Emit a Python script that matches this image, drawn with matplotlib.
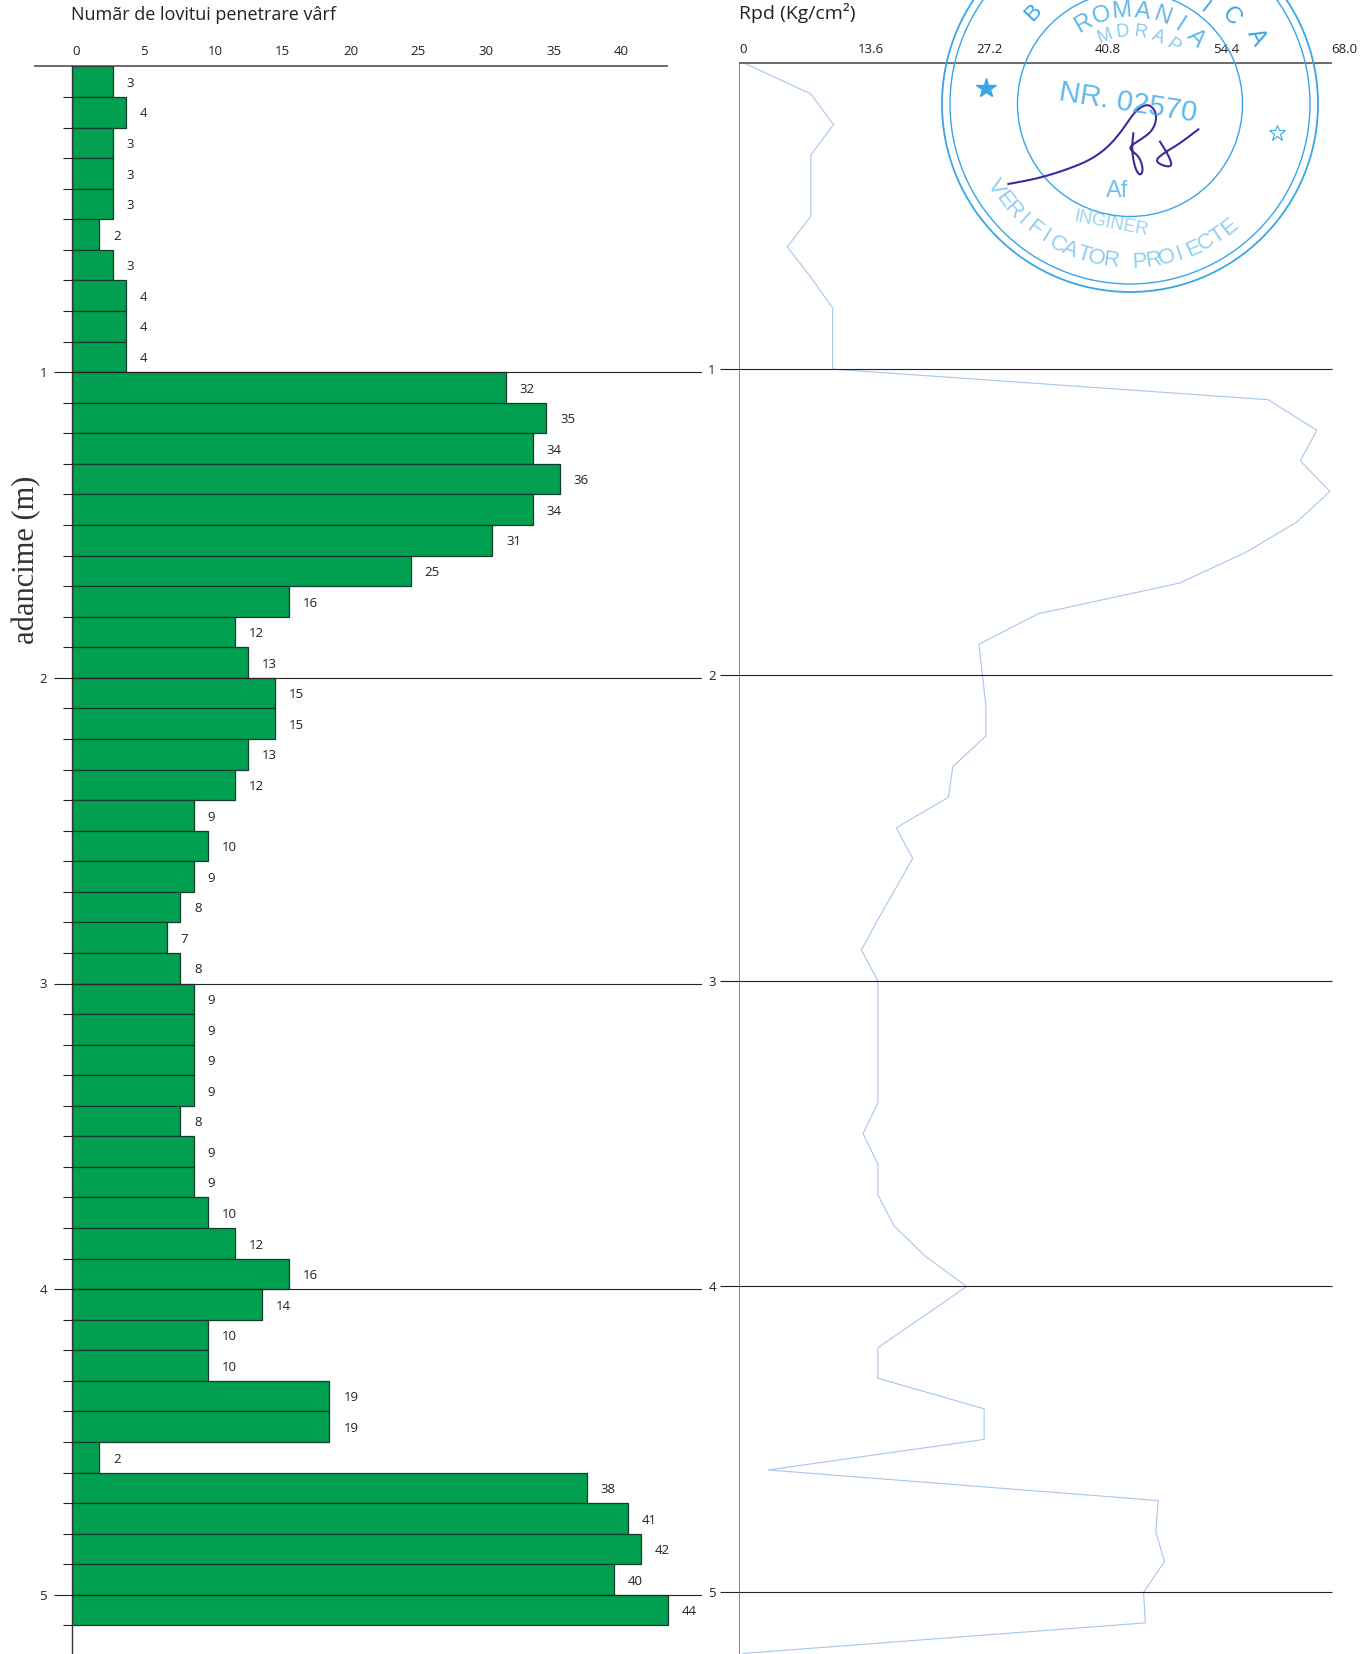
import numpy as np
import matplotlib
matplotlib.use("Agg")
import matplotlib.pyplot as plt
from matplotlib.patches import Circle

W = 1371
H = 1654
plt.rcParams['font.family'] = ['Open Sans', 'DejaVu Sans']

# numar de lovituri pe fiecare 10 cm
lovituri = [3, 4, 3, 3, 3, 2, 3, 4, 4, 4,
            32, 35, 34, 36, 34, 31, 25, 16, 12, 13,
            15, 15, 13, 12, 9, 10, 9, 8, 7, 8,
            9, 9, 9, 9, 8, 9, 9, 10, 12, 16,
            14, 10, 10, 19, 19, 2, 38, 41, 42, 40, 44]

# Rpd, din 0.0 in 5.2 m
rpd = [0.6, 8.2, 10.8, 8.2, 8.2, 8.2, 5.5, 8.2, 10.7, 10.7, 10.7,
       60.7, 66.3, 64.4, 67.8, 64.0, 58.1, 50.5, 34.3, 27.5, 27.9,
       28.3, 28.3, 24.5, 24.0, 18.0, 19.9, 17.9, 15.9, 14.0, 15.9,
       15.9, 15.9, 15.9, 15.9, 14.2, 15.9, 15.9, 17.7, 21.3, 26.1,
       21.0, 15.9, 15.9, 28.1, 28.1, 3.3, 48.1, 47.8, 48.8, 46.4,
       46.6, 0.4]

ticks_lov = [0, 5, 10, 15, 20, 25, 30, 35, 40]
ticks_rpd = [0, 13.6, 27.2, 40.8, 54.4, 68.0]
labels_rpd = ['0', '13.6', '27.2', '40.8', '54.4', '68.0']
adancimi = [1, 2, 3, 4, 5]

VERDE = '#00a050'
NEGRU = '#222222'
ALBASTRU = '#38a6e6'


def axe_px(fig, x0, x1, y0, y1):
    return fig.add_axes([x0 / W, 1 - y1 / H, (x1 - x0) / W, (y1 - y0) / H])


fig = plt.figure(figsize=(W / 100, H / 100), dpi=100, facecolor='white')

# ---- stanga: lovituri
px_unit = 13.55
ax = axe_px(fig, 72, 702, 66.4, H)
ax.set_xlim(0, (702 - 72) / px_unit)
ax.set_ylim((H - 66.4) / 305.7, 0)
ad = np.arange(len(lovituri)) * 0.1
ax.barh(ad + 0.05, lovituri, height=0.1, color=VERDE, edgecolor='#14392a', linewidth=0.9, zorder=2)
for d, n in zip(ad, lovituri):
    ax.annotate(str(n), xy=(n, d + 0.05), xytext=(10, -1.2), textcoords='offset points',
                ha='left', va='center', fontsize=9.5, color=NEGRU)
for s in ['top', 'right', 'bottom']:
    ax.spines[s].set_visible(False)
ax.spines['left'].set_color('#333333')
ax.spines['left'].set_linewidth(1.0)
ax.xaxis.tick_top()
ax.set_xticks(ticks_lov)
ax.tick_params(axis='x', length=0, pad=6, labelsize=9.5, labelcolor=NEGRU)
for lab in ax.get_xticklabels():
    lab.set_ha('left')
ax.set_yticks(adancimi)
ax.set_yticks(np.arange(0.1, 5.15, 0.1), minor=True)
ax.tick_params(axis='y', which='major', length=13, width=0.8, color=NEGRU, pad=5, labelsize=9.5, labelcolor=NEGRU)
ax.tick_params(axis='y', which='minor', length=6.5, width=0.8, color=NEGRU)
ax.grid(axis='y', which='major', color=NEGRU, linewidth=0.8, zorder=3)
ax.set_axisbelow(False)
ax.hlines(0, -38 / px_unit, 44, color='#444444', linewidth=1.1, clip_on=False, zorder=4)

# ---- dreapta: Rpd
px_rpd = 8.71
ax2 = axe_px(fig, 739.4, 1350, 63.3, H)
ax2.set_xlim(0, (1350 - 739.4) / px_rpd)
ax2.set_ylim((H - 63.3) / 305.8, 0)
ax2.patch.set_alpha(0)
ax2.plot(rpd, np.arange(len(rpd)) * 0.1, color='#a8c6ee', linewidth=0.8, zorder=2)
for s in ['top', 'right', 'bottom']:
    ax2.spines[s].set_visible(False)
ax2.spines['left'].set_color('#888888')
ax2.spines['left'].set_linewidth(0.7)
ax2.xaxis.tick_top()
ax2.set_xticks(ticks_rpd)
ax2.set_xticklabels(labels_rpd, ha='left')
ax2.tick_params(axis='x', length=0, pad=5, labelsize=9.5, labelcolor=NEGRU)
ax2.set_yticks(adancimi)
ax2.tick_params(axis='y', length=14, width=0.8, color=NEGRU, pad=3, labelsize=9.5, labelcolor=NEGRU)
ax2.hlines(adancimi, 0, 68, color=NEGRU, linewidth=0.8, zorder=3)
ax2.hlines(0, 0, 68, color='#444444', linewidth=1.1, clip_on=False, zorder=3)

# ---- texte
fig.text(71 / W, 1 - 15 / H, 'Numãr de lovitui penetrare vârf', fontsize=13, color='#222222', va='center')
fig.text(739 / W, 1 - 13 / H, 'Rpd (Kg/cm²)', fontsize=14, color='#222222', va='center')
fig.text(27 / W, 1 - 560 / H, 'adancime (m)', fontsize=22, family='Liberation Serif', color='#333333',
         rotation=90, ha='center', va='center')

# ---- stampila
ov = fig.add_axes([0, 0, 1, 1])
ov.set_xlim(0, W)
ov.set_ylim(H, 0)
ov.axis('off')
cx, cy = 1130, 104
for r, lw in [(188, 1.3), (180, 1.0), (112.5, 1.0)]:
    ov.add_patch(Circle((cx, cy), r, fill=False, edgecolor=ALBASTRU, linewidth=lw))


def text_arc(s, r, a0, a1, size, sus=True, alpha=1.0):
    for ch, a in zip(s, np.linspace(a0, a1, len(s))):
        x = cx + r * np.cos(np.radians(a))
        y = cy - r * np.sin(np.radians(a))
        rot = a - 90 if sus else a + 90
        ov.text(x, y, ch, fontsize=size, color=ALBASTRU, rotation=rot, rotation_mode='anchor',
                ha='center', va='center', alpha=alpha, fontfamily='Liberation Sans')


text_arc('B', 133, 137, 137, 16)
text_arc('I', 122, 52, 52, 15)
text_arc('C', 133, 41, 41, 17)
text_arc('A', 143, 28, 28, 17)
text_arc('ROMANIA', 93, 120, 45, 17, alpha=0.8)
text_arc('MDRAP', 72, 110, 53, 13, alpha=0.6)
text_arc('VERIFICATOR PROIECTE', 158, 212, 309, 16, sus=False, alpha=0.55)
ov.text(1128, 103, 'NR. 02570', fontsize=21, color=ALBASTRU, rotation=-9, ha='center', va='center',
        alpha=0.8, fontfamily='Liberation Sans')
ov.text(1117, 191, 'Af', fontsize=17, color=ALBASTRU, ha='center', va='center', alpha=0.7,
        fontfamily='Liberation Sans')
ov.text(1111, 224, 'INGINER', fontsize=13, color=ALBASTRU, rotation=-11, ha='center', va='center', alpha=0.5,
        fontfamily='Liberation Sans')
ov.plot([986], [88], marker='*', markersize=15, color=ALBASTRU, linestyle='none')
ov.plot([1277], [133], marker='*', markersize=12, markerfacecolor='white', markeredgecolor=ALBASTRU,
        markeredgewidth=0.8, linestyle='none')


def netezit(xs, ys, n=3):
    p = np.column_stack([xs, ys]).astype(float)
    for _ in range(n):
        q = 0.75 * p[:-1] + 0.25 * p[1:]
        r = 0.25 * p[:-1] + 0.75 * p[1:]
        p = np.vstack([p[0], np.column_stack([q, r]).reshape(-1, 2), p[-1]])
    return p[:, 0], p[:, 1]


semn1_x = [55, 110, 170, 240, 300, 350, 390, 420, 445, 475, 495, 500, 485, 450, 415, 435, 450, 460, 450, 435, 425, 430]
semn1_y = [282, 272, 258, 235, 210, 175, 130, 85, 55, 42, 60, 90, 125, 150, 172, 190, 205, 240, 258, 235, 180, 130]
semn2_x = [625, 570, 520, 495, 520, 548, 535, 510]
semn2_y = [118, 160, 190, 212, 228, 230, 195, 155]
for sx, sy in [(semn1_x, semn1_y), (semn2_x, semn2_y)]:
    px, py = netezit(sx, sy)
    ov.plot(990 + px / 3, 90 + py / 3, color='#3b2c9e', linewidth=1.5)

plt.savefig('out.png', dpi=100)
